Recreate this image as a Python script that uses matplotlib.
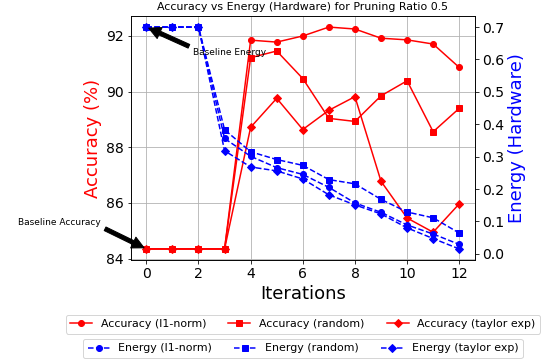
import matplotlib
matplotlib.use('Agg')
import matplotlib.pyplot as plt

iterations = list(range(13))

# accuracy (%) per pruning method
acc_l1 = [84.35, 84.35, 84.35, 84.35, 91.85, 91.78, 92.0, 92.32, 92.25, 91.92, 91.86, 91.71, 90.87]
acc_random = [84.35, 84.35, 84.35, 84.35, 91.22, 91.46, 90.47, 89.04, 88.93, 89.85, 90.39, 88.56, 89.40]
acc_taylor = [84.35, 84.35, 84.35, 84.35, 88.72, 89.76, 88.64, 89.33, 89.82, 86.78, 85.46, 84.95, 85.97]

# energy (hardware) per pruning method
en_l1 = [0.70, 0.70, 0.70, 0.356, 0.301, 0.266, 0.245, 0.205, 0.157, 0.128, 0.089, 0.061, 0.029]
en_random = [0.70, 0.70, 0.70, 0.383, 0.315, 0.291, 0.273, 0.229, 0.216, 0.168, 0.129, 0.111, 0.064]
en_taylor = [0.70, 0.70, 0.70, 0.318, 0.268, 0.256, 0.231, 0.182, 0.151, 0.123, 0.080, 0.047, 0.015]

fig = plt.figure(figsize=(560/72, 363/72), dpi=72)
ax1 = fig.add_axes([0.2334, 0.2837, 0.848-0.2334, 0.956-0.2837])
ax2 = ax1.twinx()

l1, = ax1.plot(iterations, acc_l1, 'r-o', label='Accuracy (l1-norm)')
l2, = ax1.plot(iterations, acc_random, 'r-s', label='Accuracy (random)')
l3, = ax1.plot(iterations, acc_taylor, 'r-D', label='Accuracy (taylor exp)')

e1, = ax2.plot(iterations, en_l1, 'b--o', label='Energy (l1-norm)')
e2, = ax2.plot(iterations, en_random, 'b--s', label='Energy (random)')
e3, = ax2.plot(iterations, en_taylor, 'b--D', label='Energy (taylor exp)')

ax1.grid(True)
ax1.set_xlabel('Iterations', fontsize=18)
ax1.set_ylabel('Accuracy (%)', color='red', fontsize=18)
ax2.set_ylabel('Energy (Hardware)', color='blue', fontsize=18)
ax1.tick_params(labelsize=14)
ax2.tick_params(labelsize=14)
ax1.set_title('Accuracy vs Energy (Hardware) for Pruning Ratio 0.5', fontsize=11)

ax1.annotate('Baseline Accuracy', xy=(0, acc_l1[0]), xytext=(-4.92, 85.22),
             fontsize=9, arrowprops=dict(facecolor='black', shrink=0.05))
ax2.annotate('Baseline Energy', xy=(0, en_l1[0]), xytext=(1.8, 0.613),
             fontsize=9, arrowprops=dict(facecolor='black', shrink=0.05))

leg1 = fig.legend(handles=[l1, l2, l3], loc='center', ncol=3, fontsize=11,
                  bbox_to_anchor=(0.541, 0.107))
leg2 = fig.legend(handles=[e1, e2, e3], loc='center', ncol=3, fontsize=11,
                  bbox_to_anchor=(0.541, 0.040))

fig.savefig('out.png', dpi=72)
